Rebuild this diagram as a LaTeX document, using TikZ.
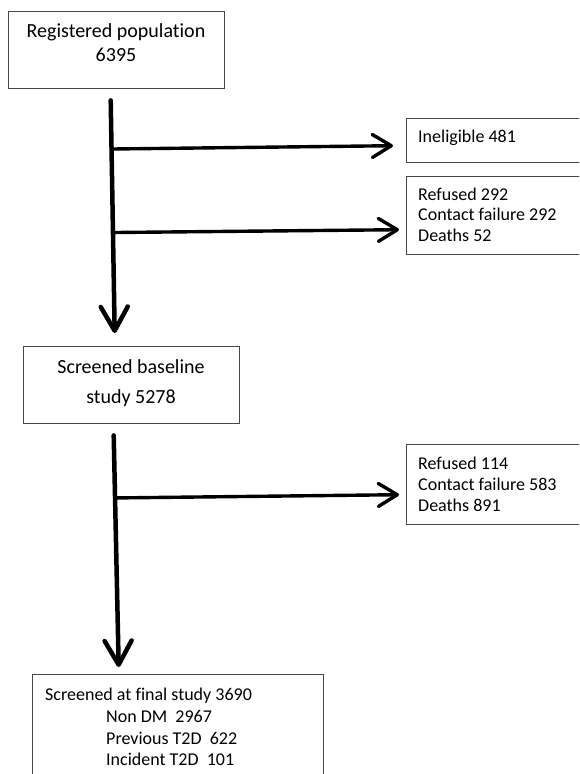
\documentclass[tikz,border=0pt]{standalone}
\usepackage{fontspec}
\setmainfont{Carlito}[Ligatures=NoCommon]
\usetikzlibrary{arrows.meta}
\begin{document}
\begin{tikzpicture}[x=1pt,y=-1pt,
  box/.style={draw=black!72, line width=1.4pt, inner sep=0pt},
  bigtxt/.style={font=\fontsize{20}{24}\selectfont, inner sep=0pt, anchor=base},
  smalltxt/.style={font=\fontsize{18}{21}\selectfont, inner sep=0pt, anchor=base west},
  mainflow/.style={line width=4.5pt, line cap=round, -{Straight Barb[length=24pt,width=27pt,line cap=round,line join=round]}},
  sideflow/.style={line width=3.4pt, line cap=round, -{Straight Barb[length=19pt,width=23pt,line cap=round,line join=round]}}
]
\useasboundingbox (0,0) rectangle (579,774);
\clip (0,0) rectangle (579,774);

% boxes
\node[box, anchor=north west, minimum width=216pt, minimum height=77pt] (reg) at (8,11) {};
\node[bigtxt] (regA) at (116,37) {Registered population};
\node[bigtxt] (regB) at (116,61) {6395};

\node[box, anchor=north west, minimum width=216pt, minimum height=77pt] (base) at (23,346) {};
\node[bigtxt] (baseA) at (131,373) {Screened baseline};
\node[bigtxt] (baseB) at (131,403) {study 5278};

\node[box, anchor=north west, minimum width=220pt, minimum height=44pt] (inel) at (406,118) {};
\node[smalltxt] (inelA) at (418,142) {Ineligible 481};

\node[box, anchor=north west, minimum width=220pt, minimum height=78pt] (lostA) at (406,176) {};
\node[smalltxt] (lostA1) at (418,200) {Refused 292};
\node[smalltxt] (lostA2) at (418,220.5) {Contact failure 292};
\node[smalltxt] (lostA3) at (418,241) {Deaths 52};

\node[box, anchor=north west, minimum width=220pt, minimum height=80pt] (lostB) at (406,444) {};
\node[smalltxt] (lostB1) at (418,469) {Refused 114};
\node[smalltxt] (lostB2) at (418,490) {Contact failure 583};
\node[smalltxt] (lostB3) at (418,511) {Deaths 891};

\node[box, anchor=north west, minimum width=291pt, minimum height=130pt] (final) at (32,674) {};
\node[smalltxt] (finalA) at (45,700) {Screened at final study 3690};
\node[smalltxt] (finalB) at (106,722) {Non DM~ 2967};
\node[smalltxt] (finalC) at (106,744) {Previous T2D~ 622};
\node[smalltxt] (finalD) at (106,765) {Incident T2D~ 101};

% main flow 1
\coordinate (v1s) at ([shift={(-6,11)}]reg.south);
\coordinate (v1e) at ([shift={(-17,-13)}]base.north);
\path (v1s) -- (v1e) coordinate[pos=0.209] (j1) coordinate[pos=0.568] (j2);
\draw[mainflow] (v1s) -- (v1e);
\draw[sideflow] (j1) -- ([shift={(-13,5)}]inel.west);
\draw[sideflow] ([xshift=1pt]j2) -- ([shift={(-7,14)}]lostA.west);

% main flow 2
\coordinate (v2s) at ([shift={(-18,11)}]base.south);
\coordinate (v2e) at ([shift={(-59.5,-7)}]final.north);
\path (v2s) -- (v2e) coordinate[pos=0.27] (j3);
\draw[mainflow] (v2s) -- (v2e);
\draw[sideflow] ([xshift=1pt]j3) -- ([shift={(-7,10)}]lostB.west);
\end{tikzpicture}
\end{document}
